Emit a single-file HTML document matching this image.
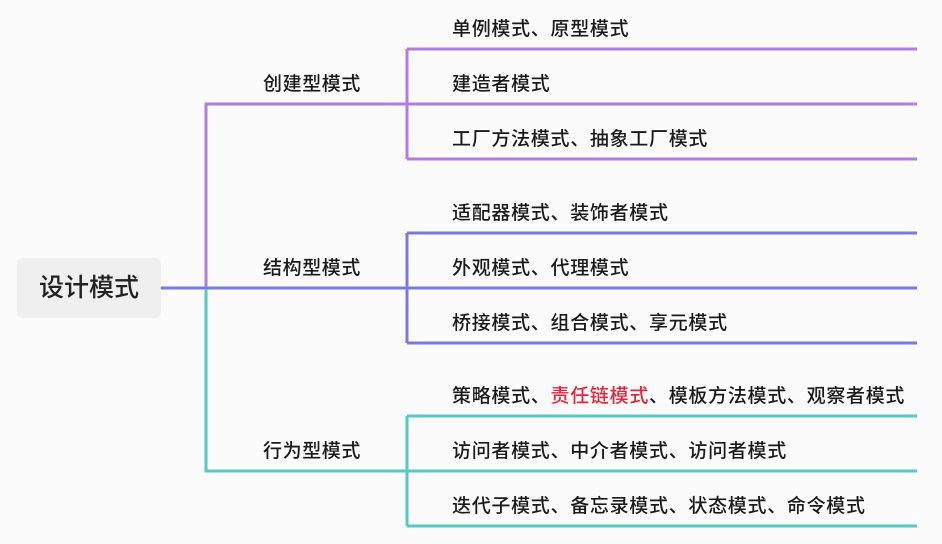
<!DOCTYPE html>
<html><head><meta charset="utf-8"><style>
body{margin:0;background:#fbfbfb;width:942px;height:544px;overflow:hidden;font-family:"Liberation Sans","Noto Sans CJK SC",sans-serif;color:#1a1a1a}
.t{position:absolute;font-size:19px;line-height:22px;white-space:nowrap;font-weight:500;letter-spacing:0.7px}
.c{letter-spacing:0.6px}
.root{position:absolute;left:17px;top:258px;width:144px;height:60px;background:#efefef;border-radius:6px;font-size:25px;line-height:60px;text-align:center;color:#222;font-weight:500}
</style></head><body>
<svg width="942" height="544" style="position:absolute;left:0;top:0" fill="none" stroke-width="3">
<g stroke="#b07ee2">
<path d="M206 288V104H917"/>
<path d="M407 49V159"/>
<path d="M407 49H917M407 159H917"/>
</g>
<g stroke="#7a7ade">
<path d="M161 288H917"/>
<path d="M407 233V343"/>
<path d="M407 233H917M407 343H917"/>
</g>
<g stroke="#56c9c4">
<path d="M206 289V471H917"/>
<path d="M407 416V526"/>
<path d="M407 416H917M407 526H917"/>
</g>
</svg>
<div class="root">设计模式</div>
<div class="t c" style="left:263px;top:74px">创建型模式</div>
<div class="t c" style="left:263px;top:258px">结构型模式</div>
<div class="t c" style="left:263px;top:441px">行为型模式</div>
<div class="t" style="left:452px;top:19px">单例模式、原型模式</div>
<div class="t" style="left:452px;top:74px">建造者模式</div>
<div class="t" style="left:452px;top:129px">工厂方法模式、抽象工厂模式</div>
<div class="t" style="left:452px;top:203px">适配器模式、装饰者模式</div>
<div class="t" style="left:452px;top:258px">外观模式、代理模式</div>
<div class="t" style="left:452px;top:313px">桥接模式、组合模式、享元模式</div>
<div class="t" style="left:452px;top:386px">策略模式、<span style="color:#e8233a">责任链模式</span>、模板方法模式、观察者模式</div>
<div class="t" style="left:452px;top:441px">访问者模式、中介者模式、访问者模式</div>
<div class="t" style="left:452px;top:496px">迭代子模式、备忘录模式、状态模式、命令模式</div>
</body></html>
